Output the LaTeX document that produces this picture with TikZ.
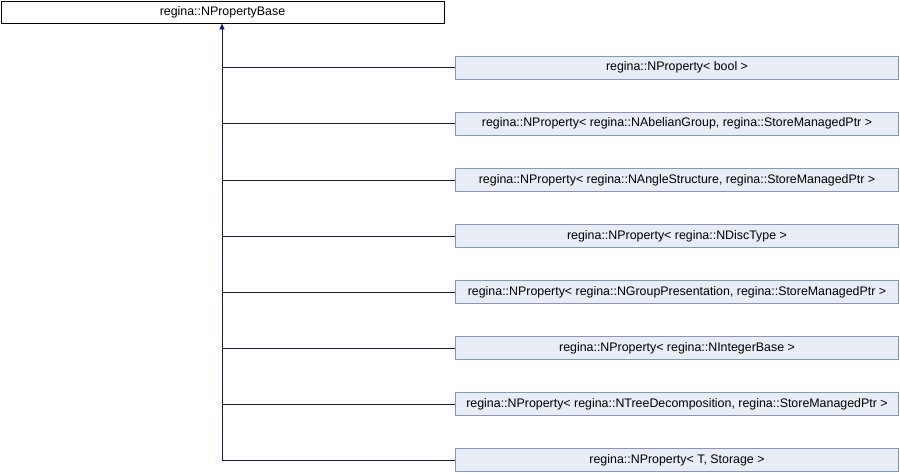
\documentclass[tikz,border=0pt]{standalone}
\usepackage{fontspec}
\setmainfont{Liberation Sans}
\usetikzlibrary{arrows.meta}
\definecolor{edgeblue}{RGB}{20,20,128}
\definecolor{boxfill}{RGB}{232,236,245}
\definecolor{boxline}{RGB}{132,150,200}
\tikzset{
  basebox/.style={draw=black, fill=white, line width=0.8pt, minimum width=443pt, minimum height=22pt, inner sep=0pt, font=\fontsize{12.4}{14}\selectfont},
  childbox/.style={draw=boxline, fill=boxfill, line width=0.8pt, minimum width=443pt, minimum height=23pt, inner sep=0pt, font=\fontsize{12.4}{14}\selectfont},
  link/.style={draw=edgeblue, line width=0.8pt}
}
\begin{document}
\begin{tikzpicture}[x=1pt,y=-1pt]
\useasboundingbox (0,0) rectangle (900,472);
\node[basebox] (base) at (222.5,12) {regina::NPropertyBase};
\node[childbox] (c1) at (677,67.5) {regina::NProperty<\ bool\ >};
\node[childbox] (c2) at (677,123.5) {regina::NProperty<\ regina::NAbelianGroup,\ regina::StoreManagedPtr\ >};
\node[childbox] (c3) at (677,180) {regina::NProperty<\ regina::NAngleStructure,\ regina::StoreManagedPtr\ >};
\node[childbox] (c4) at (677,236) {regina::NProperty<\ regina::NDiscType\ >};
\node[childbox] (c5) at (677,292) {regina::NProperty<\ regina::NGroupPresentation,\ regina::StoreManagedPtr\ >};
\node[childbox] (c6) at (677,348) {regina::NProperty<\ regina::NIntegerBase\ >};
\node[childbox] (c7) at (677,404) {regina::NProperty<\ regina::NTreeDecomposition,\ regina::StoreManagedPtr\ >};
\node[childbox] (c8) at (677,460) {regina::NProperty<\ T,\ Storage\ >};
\coordinate (j) at (222,460);
\draw[link] (c8.west) -- (j);
\draw[link,-{Triangle[length=6pt,width=5pt]}] (j) -- (base.south -| j);
\foreach \i in {1,...,7} {
  \draw[link] (c\i.west) -- (c\i.west -| j);
}
\end{tikzpicture}
\end{document}
